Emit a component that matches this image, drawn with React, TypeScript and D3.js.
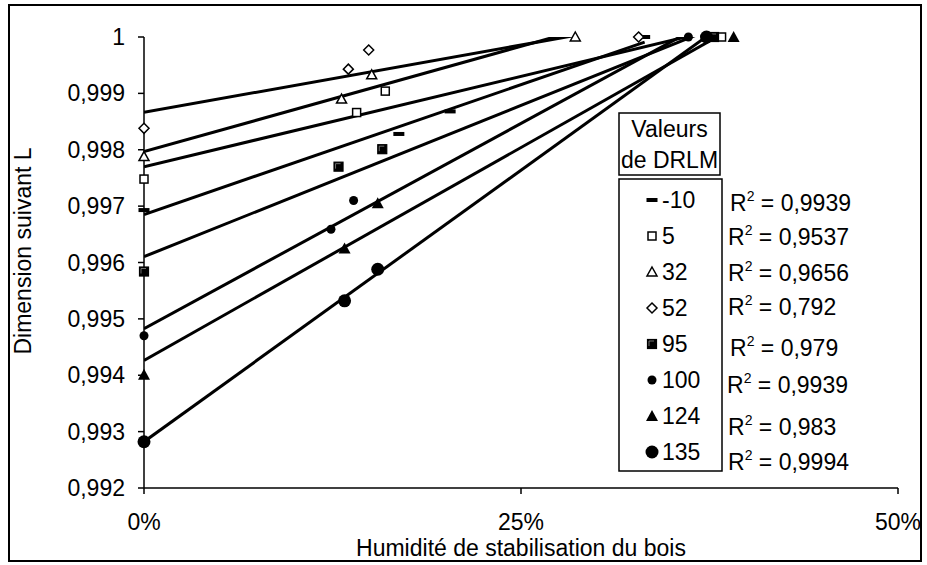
import React from "react";
import * as d3 from "d3";

// ---- data ----
const seriesNames = ["-10", "5", "32", "52", "95", "100", "124", "135"];
const humM10 = [0, 16.9, 20.3, 33.2];
const dimM10 = [0.99693, 0.99828, 0.99868, 1.0];
const hum5 = [0, 14.1, 16.0, 38.3];
const dim5 = [0.99748, 0.99866, 0.99904, 1.0];
const hum32 = [0, 13.1, 15.1, 28.6];
const dim32 = [0.99788, 0.9989, 0.99933, 1.0];
const hum52 = [0, 13.55, 14.9, 32.8];
const dim52 = [0.99838, 0.99943, 0.99977, 1.0];
const hum95 = [0, 12.9, 15.8, 37.8];
const dim95 = [0.99584, 0.9977, 0.99801, 1.0];
const hum100 = [0, 12.4, 13.9, 36.1];
const dim100 = [0.9947, 0.99659, 0.9971, 1.0];
const hum124 = [0, 13.3, 15.5, 39.1];
const dim124 = [0.99401, 0.99625, 0.99705, 1.0];
const hum135 = [0, 13.3, 15.5, 37.3];
const dim135 = [0.99282, 0.99532, 0.99588, 1.0];
const r2Labels = ["0,9939", "0,9537", "0,9656", "0,792", "0,979", "0,9939", "0,983", "0,9994"];

const xTicks = [0, 25, 50];
const xTickLabels = ["0%", "25%", "50%"];
const yTicks = [0.992, 0.993, 0.994, 0.995, 0.996, 0.997, 0.998, 0.999, 1];
const yTickLabels = ["0,992", "0,993", "0,994", "0,995", "0,996", "0,997", "0,998", "0,999", "1"];

const allHum = [humM10, hum5, hum32, hum52, hum95, hum100, hum124, hum135];
const allDim = [dimM10, dim5, dim32, dim52, dim95, dim100, dim124, dim135];
const markerTypes = ["dash", "square", "triangle", "diamond", "fsquare", "circle", "ftriangle", "bigcircle"];

// ---- layout ----
const W = 927;
const H = 565;
const FONT = "'Liberation Sans', Arial, sans-serif";
const FS = 23;
const plot = { left: 144, right: 898, top: 37, bottom: 488 };
const r2Pos = [
  [730, 203], [728, 237], [728, 273], [728, 307], [730, 348], [727, 385], [728, 427], [728, 462],
];

function Marker({ type, cx, cy }: { type: string; cx: number; cy: number }) {
  switch (type) {
    case "dash":
      return <rect x={cx - 5.5} y={cy - 2} width={11} height={4} fill="#000" />;
    case "square":
      return <rect x={cx - 4} y={cy - 4} width={8} height={8} fill="#fff" stroke="#000" strokeWidth={1.5} />;
    case "triangle":
      return (
        <path d={`M${cx},${cy - 5}L${cx + 5},${cy + 4}L${cx - 5},${cy + 4}Z`} fill="#fff" stroke="#000" strokeWidth={1.5} />
      );
    case "diamond":
      return (
        <path d={`M${cx},${cy - 5}L${cx + 5},${cy}L${cx},${cy + 5}L${cx - 5},${cy}Z`} fill="#fff" stroke="#000" strokeWidth={1.5} />
      );
    case "fsquare":
      return (
        <g>
          <rect x={cx - 4.5} y={cy - 4.5} width={9} height={9} fill="#000" stroke="#000" strokeWidth={1.2} />
          <path d={`M${cx - 3},${cy + 2}V${cy - 3}H${cx + 2}`} fill="none" stroke="#888" strokeWidth={0.8} />
        </g>
      );
    case "circle":
      return <circle cx={cx} cy={cy} r={4.5} fill="#000" />;
    case "ftriangle":
      return <path d={`M${cx},${cy - 6}L${cx + 6},${cy + 5}L${cx - 6},${cy + 5}Z`} fill="#000" />;
    case "bigcircle":
      return <circle cx={cx} cy={cy} r={6.5} fill="#000" />;
    default:
      return null;
  }
}

function regression(xs: number[], ys: number[]) {
  const mx = d3.mean(xs) as number;
  const my = d3.mean(ys) as number;
  let sxy = 0;
  let sxx = 0;
  xs.forEach((x, i) => {
    sxy += (x - mx) * (ys[i] - my);
    sxx += (x - mx) * (x - mx);
  });
  const slope = sxy / sxx;
  return { slope, intercept: my - slope * mx };
}

export default function App() {
  const x = d3.scaleLinear().domain([0, 50]).range([plot.left, plot.right]);
  const y = d3.scaleLinear().domain([0.992, 1]).range([plot.bottom, plot.top]);
  const line = d3
    .line<[number, number]>()
    .x((d) => x(d[0]))
    .y((d) => y(d[1]));

  const legendRowY = d3.range(seriesNames.length).map((i) => 200 + i * 36);

  return (
    <svg
      width={W}
      height={H}
      style={{ position: "absolute", left: 0, top: 0, background: "#fff" }}
      fontFamily={FONT}
    >
      <defs>
        <clipPath id="plotClip">
          <rect x={plot.left} y={plot.top} width={plot.right - plot.left} height={plot.bottom - plot.top} />
        </clipPath>
      </defs>
      <rect x={0} y={0} width={W} height={H} fill="#fff" />
      {/* outer frame */}
      <rect x={9} y={5} width={912} height={556} fill="none" stroke="#000" strokeWidth={2} />

      {/* axes */}
      <line x1={plot.left} y1={plot.top} x2={plot.left} y2={plot.bottom} stroke="#000" strokeWidth={1.5} />
      <line x1={plot.left} y1={plot.bottom} x2={plot.right} y2={plot.bottom} stroke="#000" strokeWidth={1.5} />
      {yTicks.map((t, i) => (
        <g key={"yt" + i}>
          <line x1={plot.left - 6} x2={plot.left} y1={y(t)} y2={y(t)} stroke="#000" strokeWidth={1.5} />
          <text x={125} y={y(t)} dy="0.35em" textAnchor="end" fontSize={FS}>
            {yTickLabels[i]}
          </text>
        </g>
      ))}
      {xTicks.map((t, i) => (
        <g key={"xt" + i}>
          <line x1={x(t)} x2={x(t)} y1={plot.bottom} y2={plot.bottom + 6} stroke="#000" strokeWidth={1.5} />
          <text x={x(t)} y={530} textAnchor="middle" fontSize={FS}>
            {xTickLabels[i]}
          </text>
        </g>
      ))}
      <text x={(plot.left + plot.right) / 2} y={556} textAnchor="middle" fontSize={FS}>
        Humidité de stabilisation du bois
      </text>
      <text transform={`translate(31,${251}) rotate(-90)`} textAnchor="middle" fontSize={FS}>
        Dimension suivant L
      </text>

      {/* trend lines */}
      <g clipPath="url(#plotClip)">
        {allHum.map((hs, i) => {
          const { slope, intercept } = regression(hs, allDim[i]);
          const x0 = d3.min(hs) as number;
          const x1 = d3.max(hs) as number;
          return (
            <path
              key={"tl" + i}
              d={line([
                [x0, intercept + slope * x0],
                [x1, intercept + slope * x1],
              ]) as string}
              fill="none"
              stroke="#000"
              strokeWidth={3}
            />
          );
        })}
      </g>

      {/* markers */}
      {allHum.map((hs, i) =>
        hs.map((h, j) => <Marker key={`m${i}-${j}`} type={markerTypes[i]} cx={x(h)} cy={y(allDim[i][j])} />)
      )}

      {/* legend title */}
      <rect x={619} y={113} width={101} height={62} fill="#fff" stroke="#000" strokeWidth={1.5} />
      <text x={669.5} y={137} textAnchor="middle" fontSize={FS}>
        Valeurs
      </text>
      <text x={669.5} y={168} textAnchor="middle" fontSize={FS}>
        de DRLM
      </text>
      {/* legend box */}
      <rect x={619} y={179} width={103} height={292} fill="#fff" stroke="#000" strokeWidth={1.5} />
      {seriesNames.map((n, i) => (
        <g key={"lg" + i}>
          <Marker type={markerTypes[i]} cx={652} cy={legendRowY[i]} />
          <text x={662} y={legendRowY[i]} dy="0.35em" fontSize={FS}>
            {n}
          </text>
        </g>
      ))}

      {/* R² labels */}
      {r2Labels.map((r, i) => (
        <text key={"r2" + i} x={r2Pos[i][0]} y={r2Pos[i][1]} dy="0.35em" fontSize={FS}>
          R
          <tspan fontSize={14} dy={-10}>
            2
          </tspan>
          <tspan dy={10}> = {r}</tspan>
        </text>
      ))}
    </svg>
  );
}
